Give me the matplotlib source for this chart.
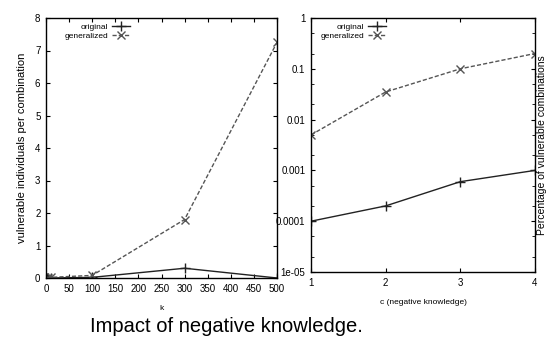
import matplotlib
matplotlib.use("Agg")
import matplotlib.pyplot as plt
from matplotlib.ticker import LogLocator, NullFormatter

plt.rcParams['font.family'] = ['Liberation Sans', 'DejaVu Sans']

# Left panel data
k_values = [2, 5, 10, 100, 300, 500]
left_original = [0.0, 0.0, 0.0, 0.02, 0.3, 0.0]
left_generalized = [0.01, 0.01, 0.02, 0.08, 1.8, 7.25]
left_xticks = [0, 50, 100, 150, 200, 250, 300, 350, 400, 450, 500]
left_yticks = [0, 1, 2, 3, 4, 5, 6, 7, 8]

# Right panel data
c_values = [1, 2, 3, 4]
right_original = [1e-4, 2e-4, 6e-4, 1e-3]
right_generalized = [0.005, 0.035, 0.1, 0.2]
right_yticks = [1e-5, 1e-4, 1e-3, 1e-2, 1e-1, 1]
right_yticklabels = ['1e-05', '0.0001', '0.001', '0.01', '0.1', '1']

fig = plt.figure(figsize=(5.47, 3.56), dpi=100)
W, H = 547, 356
ax1 = fig.add_axes([46 / W, 1 - 278 / H, (277 - 46) / W, (278 - 18) / H])
ax2 = fig.add_axes([311 / W, 1 - 272 / H, (535 - 311) / W, (272 - 18) / H])

lc = '#222222'
for ax in (ax1, ax2):
    ax.tick_params(direction='in', top=True, right=True, labelsize=7, length=3, pad=4)
    for s in ax.spines.values():
        s.set_linewidth(1.0)

ax1.plot(k_values, left_original, '-', color=lc, lw=1.0, marker='+', ms=7, mew=1.0, label='original')
ax1.plot(k_values, left_generalized, '--', color='#555555', lw=1.0, dashes=(3, 1.5), marker='x', ms=6, mew=1.0, label='generalized')
ax1.set_xlim(0, 500)
ax1.set_ylim(0, 8)
ax1.set_xticks(left_xticks)
ax1.set_yticks(left_yticks)
ax1.set_ylabel('vulnerable individuals per combination', fontsize=8, labelpad=6)
ax1.set_xlabel('k', fontsize=6, labelpad=8)
ax1.legend(loc='upper left', bbox_to_anchor=(0.06, 1.0), frameon=False, fontsize=6,
           markerfirst=False, handlelength=2.2, handletextpad=0.4, labelspacing=0.1,
           borderaxespad=0.2)

ax2.plot(c_values, right_original, '-', color=lc, lw=1.0, marker='+', ms=7, mew=1.0, label='original')
ax2.plot(c_values, right_generalized, '--', color='#555555', lw=1.0, dashes=(3, 1.5), marker='x', ms=6, mew=1.0, label='generalized')
ax2.set_yscale('log')
ax2.set_xlim(1, 4)
ax2.set_ylim(1e-5, 1)
ax2.set_xticks(c_values)
ax2.set_yticks(right_yticks)
ax2.set_yticklabels(right_yticklabels)
ax2.yaxis.set_minor_locator(LogLocator(base=10, subs=[2, 5]))
ax2.yaxis.set_minor_formatter(NullFormatter())
ax2.tick_params(which='minor', direction='in', right=True, length=2)
ax2.set_xlabel('c (negative knowledge)', fontsize=6, labelpad=8)
ax2.legend(loc='upper left', bbox_to_anchor=(0.02, 1.0), frameon=False, fontsize=6,
           markerfirst=False, handlelength=2.2, handletextpad=0.4, labelspacing=0.1,
           borderaxespad=0.2)
fig.text(542 / W, 1 - 145 / H, 'Percentage of vulnerable combinations', rotation=90,
         fontsize=7.5, ha='center', va='center')

fig.text(90 / W, 1 - 326 / H, 'Impact of negative knowledge.', fontsize=14.5, ha='left', va='center')

fig.savefig('out.png', dpi=100)
